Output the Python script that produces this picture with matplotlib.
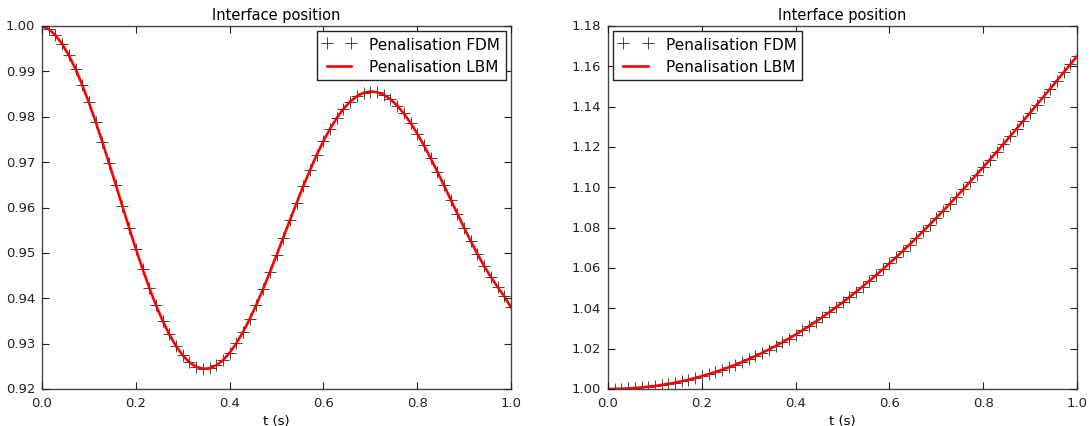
import numpy as np
import matplotlib
matplotlib.use("Agg")
import matplotlib.pyplot as plt

# Sampling times (uniform output step of the simulation, 71 samples on [0, 1])
t = np.linspace(0.0, 1.0, 71)

# Left panel: interface position
left_pos = [
    1.00000, 0.99931, 0.99798, 0.99605, 0.99354, 0.99052, 0.98703, 0.98315,
    0.97893, 0.97446, 0.96980, 0.96505, 0.96026, 0.95552, 0.95091, 0.94649,
    0.94234, 0.93851, 0.93505, 0.93203, 0.92947, 0.92741, 0.92588, 0.92489,
    0.92445, 0.92455, 0.92518, 0.92633, 0.92797, 0.93006, 0.93257, 0.93543,
    0.93862, 0.94206, 0.94570, 0.94947, 0.95333, 0.95719, 0.96101, 0.96471,
    0.96825, 0.97158, 0.97463, 0.97737, 0.97976, 0.98177, 0.98336, 0.98454,
    0.98527, 0.98556, 0.98541, 0.98484, 0.98385, 0.98247, 0.98072, 0.97865,
    0.97629, 0.97369, 0.97088, 0.96792, 0.96486, 0.96174, 0.95862, 0.95555,
    0.95257, 0.94973, 0.94708, 0.94465, 0.94247, 0.94040, 0.93800,
]

# Right panel: interface position
right_pos = [
    1.00000, 1.00003, 1.00012, 1.00027, 1.00048, 1.00076, 1.00111, 1.00152,
    1.00200, 1.00254, 1.00316, 1.00385, 1.00461, 1.00544, 1.00635, 1.00733,
    1.00839, 1.00952, 1.01072, 1.01201, 1.01336, 1.01480, 1.01631, 1.01790,
    1.01957, 1.02131, 1.02313, 1.02503, 1.02700, 1.02905, 1.03117, 1.03337,
    1.03565, 1.03800, 1.04042, 1.04291, 1.04548, 1.04811, 1.05082, 1.05360,
    1.05644, 1.05935, 1.06233, 1.06537, 1.06847, 1.07163, 1.07485, 1.07814,
    1.08148, 1.08487, 1.08832, 1.09181, 1.09536, 1.09896, 1.10259, 1.10628,
    1.11000, 1.11376, 1.11756, 1.12139, 1.12525, 1.12915, 1.13306, 1.13700,
    1.14097, 1.14494, 1.14894, 1.15294, 1.15696, 1.16098, 1.16500,
]

series_labels = ["Penalisation FDM", "Penalisation LBM"]
title_text = "Interface position"
xlabel_text = "t (s)"
left_yticks = [0.92, 0.93, 0.94, 0.95, 0.96, 0.97, 0.98, 0.99, 1.00]
right_yticks = [1.00, 1.02, 1.04, 1.06, 1.08, 1.10, 1.12, 1.14, 1.16, 1.18]
xticks = [0.0, 0.2, 0.4, 0.6, 0.8, 1.0]

plt.style.use("classic")
plt.rcParams["font.family"] = ["DejaVu Sans"]

W, H = 1091, 427
fig = plt.figure(figsize=(W / 100, H / 100), dpi=100, facecolor="white")

ax_l = fig.add_axes([42 / W, 1 - 390 / H, 469 / W, 363 / H])
ax_r = fig.add_axes([608 / W, 1 - 390 / H, 469 / W, 363 / H])


def draw(ax, y, yticks, loc):
    ax.set_facecolor("white")
    ax.plot(t, y, linestyle="none", marker="+", markersize=9,
            markeredgewidth=0.7, color="#444444", label=series_labels[0])
    ax.plot(t, y, linestyle="-", color="red", linewidth=1.9,
            label=series_labels[1])
    ax.set_xlim(0.0, 1.0)
    ax.set_ylim(yticks[0], yticks[-1])
    ax.set_xticks(xticks)
    ax.set_yticks(yticks)
    ax.set_xticklabels(["%.1f" % v for v in xticks])
    ax.set_yticklabels(["%.2f" % v for v in yticks])
    ax.tick_params(axis="both", which="major", direction="in", length=5,
                   width=0.8, labelsize=9.5, colors="#222222",
                   top=True, right=True, pad=5)
    for s in ax.spines.values():
        s.set_linewidth(1.0)
        s.set_color("#444444")
    ax.set_title(title_text, fontsize=10.5, pad=5)
    ax.set_xlabel(xlabel_text, fontsize=9.5, labelpad=4)
    leg = ax.legend(loc=loc, fontsize=11, numpoints=2, frameon=True,
                    fancybox=False, borderaxespad=0.35, handlelength=2.2,
                    borderpad=0.35, labelspacing=0.5, handletextpad=0.9)
    leg.get_frame().set_edgecolor("#222222")
    leg.get_frame().set_linewidth(1.0)


draw(ax_l, left_pos, left_yticks, "upper right")
draw(ax_r, right_pos, right_yticks, "upper left")

fig.savefig("out.png", dpi=100, facecolor="white")
